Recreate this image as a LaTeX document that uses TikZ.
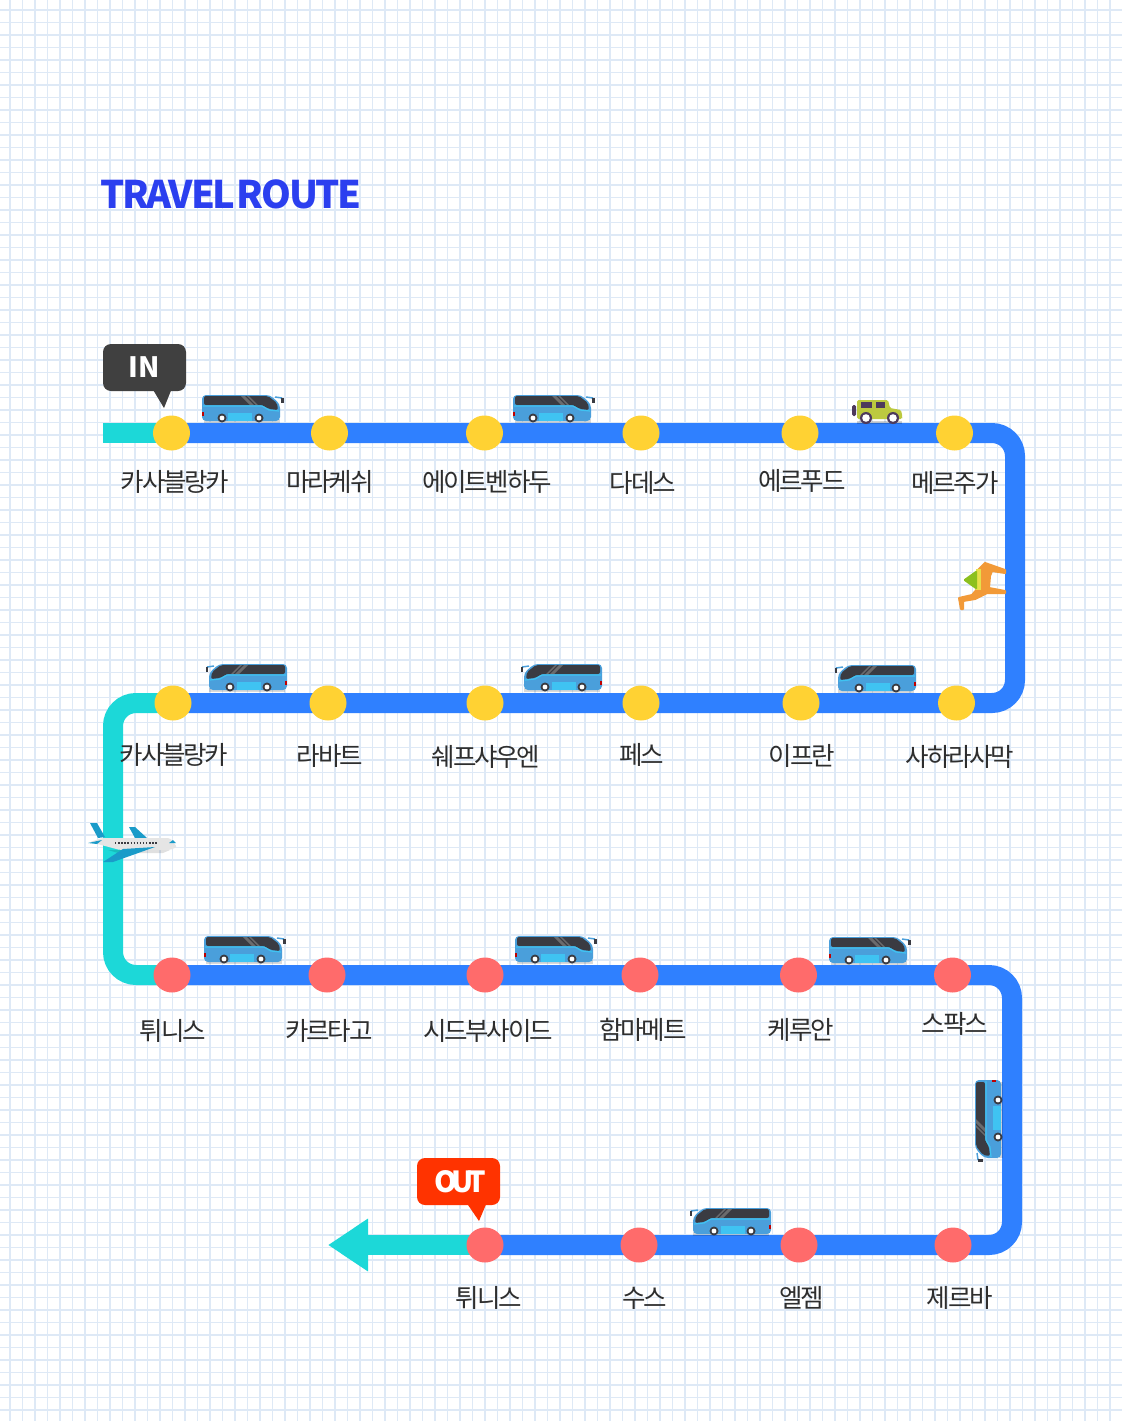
\documentclass[tikz,border=0pt]{standalone}
\usepackage{fontspec}
\setmainfont{Noto Sans CJK KR}
\newfontfamily\stopfont[LetterSpace=-8.5]{Noto Sans CJK KR}
\newfontfamily\titlefont[LetterSpace=-6]{Noto Sans CJK KR}
\newfontfamily\outfont[LetterSpace=-20]{Noto Sans CJK KR}
\usetikzlibrary{arrows.meta,backgrounds,shapes.geometric}
\definecolor{routeblue}{HTML}{2F80FF}
\definecolor{routecyan}{HTML}{1CD8D8}
\definecolor{stopyellow}{HTML}{FFD233}
\definecolor{stopred}{HTML}{FF6B6B}
\definecolor{gridblue}{HTML}{DEE9F6}
\definecolor{titleblue}{HTML}{2B3FEF}
\definecolor{inblack}{HTML}{404040}
\definecolor{outred}{HTML}{FF3300}
\definecolor{busblue}{HTML}{4A9FDB}
\definecolor{buscyan}{HTML}{3FC3F2}
\definecolor{busdark}{HTML}{3A3B42}
\definecolor{jeepgreen}{HTML}{BCC93F}
\definecolor{jeepdark}{HTML}{4D3A5C}
\definecolor{digorange}{HTML}{F29A38}
\definecolor{diggreen}{HTML}{8CC01E}
\definecolor{digyellow}{HTML}{E6E04A}
\definecolor{planeblue}{HTML}{1A9BC9}
\tikzset{
  busicon/.pic={
    \fill[black,opacity=.15] (-38,11) rectangle (38,15);
    \draw[busblue,line width=1.5] (33,-11) -- (40,-10);
    \fill[busdark] (39,-10) rectangle (41.5,-5);
    \fill[busblue,rounded corners=4] (-40,-13) -- (28,-13) -- (38,-4) -- (38,13) -- (-40,13) -- cycle;
    \fill[busdark,rounded corners=2] (-38,-12) -- (26,-12) -- (35,-5) -- (36,2) -- (27,1) -- (20,-3) -- (-38,-3) -- cycle;
    \fill[gray!70!busdark] (-1,-12) -- (3,-12) -- (12,-3) -- (8,-3) -- cycle;
    \fill[gray!70!busdark] (5,-12) -- (7,-12) -- (16,-3) -- (14,-3) -- cycle;
    \draw[buscyan,line width=1.2] (-39,-2) -- (20,-2) -- (27,2) -- (37,3);
    \fill[buscyan] (-14,5) rectangle (10,13);
    \fill[red!75!black] (-40,4) rectangle (-38,8);
    \foreach \wx in {-20,17}{
      \fill[busdark] (\wx,10) circle (4.5);
      \fill[white] (\wx,10) circle (2.4);
    }
  },
  jeepicon/.pic={
    \fill[black,opacity=.18] (-20,9) rectangle (25,12);
    \fill[jeepdark,rounded corners=1.5] (-25,-7) rectangle (-21,4);
    \fill[jeepgreen,rounded corners=1.5] (-20,7) -- (-20,-12) -- (11,-12) -- (13,-4) -- (24,-2) -- (25.5,5) -- (25,7) -- cycle;
    \fill[jeepdark] (-16,-10) rectangle (-5,-4);
    \fill[jeepdark] (-1,-10) rectangle (8,-4);
    \foreach \wx in {-11,16}{
      \fill[jeepdark] (\wx,6) circle (6);
      \fill[white] (\wx,6) circle (3.8);
    }
  },
  digicon/.pic={
    \filldraw[digorange,line width=2,line join=round] (-5,-17) -- (2,-24) -- (22,-17) -- (22,-14) -- (9,-16) -- (7,-11) -- (6,1) -- (22,4) -- (22,6) -- (4,6) -- (-8,12) -- (-20,14) -- (-20,22) -- (-22,22) -- (-24,11) -- (-11,8) -- (-5,1) -- cycle;
    \fill[digyellow] (-7,-18) -- (-2,-18) -- (-2,3) -- (-7,3) -- cycle;
    \fill[diggreen,rounded corners=1.5] (-20,-7) -- (-6,-17) -- (-6,3) -- cycle;
  },
  planeicon/.pic={
    \fill[planeblue] (-43,-20) -- (-36,-20) -- (-28,-6) -- (-35,-5) -- cycle;
    \fill[planeblue] (-4,-16) -- (2,-16) -- (14,-5) -- (2,-5) -- cycle;
    \fill[black,opacity=.12] (-25,7) -- (37,7) -- (30,10) -- (-15,10) -- cycle;
    \fill[gray!20,rounded corners=2] (-31,-5) -- (37,-5) -- (44,4) -- (37,7) -- (-13,7) -- (-43,-1) -- cycle;
    \fill[planeblue] (-45,0) -- (-31,-3) -- (-36,1) -- cycle;
    \fill[planeblue] (22,4) -- (-10,6) -- (-30,19) -- (-20,19) -- cycle;
    \fill[planeblue] (36,0) -- (43,0) -- (40,-3) -- cycle;
    \draw[busdark,line width=1.6,dash pattern=on 1.4 off 1.7] (-18,0) -- (24,0);
  }
}
\begin{document}
\begin{tikzpicture}[x=1pt,y=-1pt,
  stopnode/.style={ellipse,minimum width=37,minimum height=35,inner sep=0pt},
  yellowstop/.style={stopnode,fill=stopyellow},
  redstop/.style={stopnode,fill=stopred},
  stoplabel/.style={inner sep=0pt,xshift=1pt,yshift=-1pt,text=black!82,font=\stopfont\fontsize{25.5}{28}\selectfont},
  routeline/.style={line width=20,rounded corners=23},
  calloutbox/.style={rounded corners=8,minimum width=83,minimum height=47,inner sep=0pt,text=white}]
\useasboundingbox (0,0) rectangle (1122,1421);
\node[yellowstop] (a1) at (171.5,433) {};
\node[yellowstop] (a2) at (329.5,433) {};
\node[yellowstop] (a3) at (484.5,433) {};
\node[yellowstop] (a4) at (641,433) {};
\node[yellowstop] (a5) at (800,433) {};
\node[yellowstop] (a6) at (954.5,433) {};
\node[yellowstop] (b1) at (173,703) {};
\node[yellowstop] (b2) at (328,703) {};
\node[yellowstop] (b3) at (485,703) {};
\node[yellowstop] (b4) at (641,703) {};
\node[yellowstop] (b5) at (801,703) {};
\node[yellowstop] (b6) at (956.5,703) {};
\node[redstop] (c1) at (172,975) {};
\node[redstop] (c2) at (327,975) {};
\node[redstop] (c3) at (485,975) {};
\node[redstop] (c4) at (640,975) {};
\node[redstop] (c5) at (798.5,975) {};
\node[redstop] (c6) at (952.5,975) {};
\node[redstop] (d1) at (485,1245) {};
\node[redstop] (d2) at (639,1245) {};
\node[redstop] (d3) at (799,1245) {};
\node[redstop] (d4) at (953,1245) {};
\coordinate (start) at (103,433);
\coordinate (corner1) at (1015,433);
\coordinate (corner2) at (1015,703);
\coordinate (corner3) at (113,703);
\coordinate (corner4) at (113,975);
\coordinate (corner5) at (1012,975);
\coordinate (corner6) at (1012,1245);
\coordinate (finish) at (328,1245);
\begin{scope}[on background layer]
\fill[white] (0,0) rectangle (1122,1421);
\foreach \gx in {0,...,88}{
  \draw[gridblue,line width=1.5] (10+12.5*\gx,0) -- (10+12.5*\gx,1421);
}
\foreach \gy in {0,...,112}{
  \draw[gridblue,line width=1.5] (0,10+12.5*\gy) -- (1122,10+12.5*\gy);
}
\draw[routeline,routecyan] (start) -- (a1.center);
\draw[routeline,routeblue] (a1.center) -- (corner1) -- (corner2) -- (b1.center);
\draw[routeline,routecyan] (b1.center) -- (corner3) -- (corner4) -- (c1.center);
\draw[routeline,routeblue] (c1.center) -- (corner5) -- (corner6) -- (d1.center);
\draw[routeline,routecyan,-{Triangle[length=40pt,width=50pt]}] (d1.center) -- (finish);
\end{scope}
\node[inner sep=0pt,anchor=west,text=titleblue,font=\titlefont\bfseries\fontsize{38}{40}\selectfont] (title) at (100.5,194) {TRAVEL\hspace{-5pt} ROUTE};
\node[stoplabel] (la1) at (174,481) {카사블랑카};
\node[stoplabel] (la2) at (329,481) {마라케쉬};
\node[stoplabel] (la3) at (486,481) {에이트벤하두};
\node[stoplabel] (la4) at (642,482) {다데스};
\node[stoplabel] (la5) at (801,480) {에르푸드};
\node[stoplabel] (la6) at (954,482) {메르주가};
\node[stoplabel] (lb1) at (173,754) {카사블랑카};
\node[stoplabel] (lb2) at (329,755) {라바트};
\node[stoplabel] (lb3) at (485,756) {쉐프샤우엔};
\node[stoplabel] (lb4) at (641,754) {페스};
\node[stoplabel] (lb5) at (801,755) {이프란};
\node[stoplabel] (lb6) at (959,756) {사하라사막};
\node[stoplabel] (lc1) at (172,1030) {튀니스};
\node[stoplabel] (lc2) at (328,1030) {카르타고};
\node[stoplabel] (lc3) at (487,1030) {시드부사이드};
\node[stoplabel] (lc4) at (642,1029) {함마메트};
\node[stoplabel] (lc5) at (800,1029) {케루안};
\node[stoplabel] (lc6) at (954,1023) {스팍스};
\node[stoplabel] (ld1) at (488,1297) {튀니스};
\node[stoplabel] (ld2) at (644,1297) {수스};
\node[stoplabel] (ld3) at (801,1297) {엘젬};
\node[stoplabel] (ld4) at (959,1297) {제르바};
\pic at (242,408) {busicon};
\pic at (553,408) {busicon};
\pic[xscale=-1] at (247,677) {busicon};
\pic[xscale=-1] at (562,677) {busicon};
\pic[xscale=-1] at (876,678) {busicon};
\pic at (244,949) {busicon};
\pic at (555,949) {busicon};
\pic at (869,950) {busicon};
\pic[xscale=-1] at (731,1221) {busicon};
\pic[rotate=90,xscale=-1] at (988,1120) {busicon};
\pic at (877,412) {jeepicon};
\pic at (983,587) {digicon};
\pic at (133,843) {planeicon};
\fill[inblack] (152,388) -- (172,388) -- (164,408) -- cycle;
\node[calloutbox,fill=inblack,font=\bfseries\fontsize{28}{30}\selectfont] (inbox) at (144.5,367.5) {IN};
\fill[outred] (466,1202) -- (487,1202) -- (479,1221) -- cycle;
\node[calloutbox,fill=outred,font=\outfont\bfseries\fontsize{29}{32}\selectfont] (outbox) at (458.5,1181.5) {\hspace{4pt}OUT};
\end{tikzpicture}
\end{document}
